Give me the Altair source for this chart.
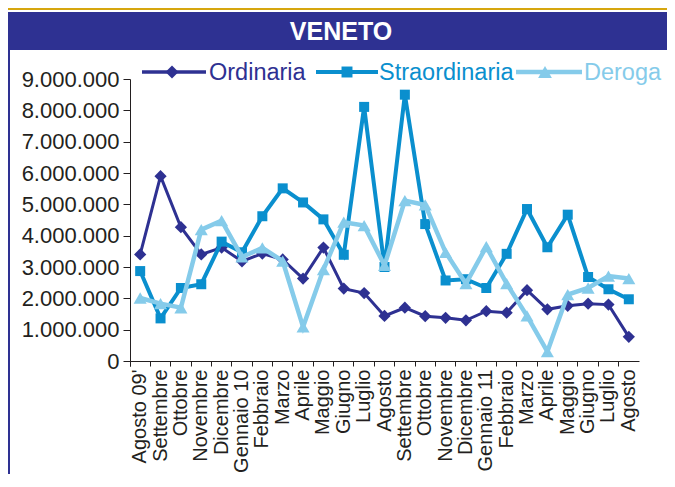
import json
import altair as alt
import pandas as pd

months = ["Agosto 09'", "Settembre", "Ottobre", "Novembre", "Dicembre", "Gennaio 10",
          "Febbraio", "Marzo", "Aprile", "Maggio", "Giugno", "Luglio", "Agosto",
          "Settembre", "Ottobre", "Novembre", "Dicembre", "Gennaio 11", "Febbraio",
          "Marzo", "Aprile", "Maggio", "Giugno", "Luglio", "Agosto"]
ordinaria = [3400000, 5900000, 4270000, 3400000, 3620000, 3180000, 3430000, 3240000,
             2630000, 3620000, 2310000, 2170000, 1440000, 1700000, 1430000, 1380000,
             1300000, 1590000, 1540000, 2260000, 1650000, 1760000, 1830000, 1800000, 770000]
straordinaria = [2870000, 1360000, 2330000, 2450000, 3810000, 3470000, 4620000, 5510000,
                 5060000, 4520000, 3390000, 8110000, 3000000, 8500000, 4370000, 2570000,
                 2610000, 2330000, 3420000, 4850000, 3630000, 4670000, 2680000, 2290000, 1970000]
deroga = [2010000, 1830000, 1700000, 4190000, 4480000, 3320000, 3610000, 3190000,
          1090000, 2920000, 4430000, 4320000, 3050000, 5120000, 4980000, 3470000,
          2470000, 3650000, 2470000, 1440000, 300000, 2120000, 2330000, 2710000, 2630000]
series_names = ["Ordinaria", "Straordinaria", "Deroga"]
y_ticks = list(range(0, 9000001, 1000000))

rows = []
for name, vals in zip(series_names, [ordinaria, straordinaria, deroga]):
    for i, v in enumerate(vals):
        rows.append({"idx": i, "series": name, "value": v})
df = pd.DataFrame(rows)
one = pd.DataFrame({"a": [0]})

FONT = "Liberation Sans"
C_ORD = "#2e3192"
C_STR = "#0a8fce"
C_DER = "#85cbea"
HEADER = "#2e3192"
GOLD = "#d6a60e"
DARK = "#231f20"

x_enc = alt.X(
    "idx:O",
    bandPosition=0.5,
    scale=alt.Scale(type="band", paddingInner=0, paddingOuter=0),
    axis=alt.Axis(
        title=None,
        labelExpr=json.dumps(months) + "[datum.value]",
        labelAngle=270,
        labelFontSize=20,
        labelPadding=3,
        labelOverlap=False,
        labelLimit=300,
        tickSize=5,
        bandPosition=0,
        tickExtra=True,
        grid=False,
    ),
)
y_enc = alt.Y(
    "value:Q",
    scale=alt.Scale(domain=[0, 9000000], nice=False),
    axis=alt.Axis(
        title=None,
        values=y_ticks,
        labelExpr="replace(replace(replace(format(datum.value, ',d'), ',', '.'), ',', '.'), ',', '.')",
        labelFontSize=22,
        labelPadding=4,
        tickSize=7,
        grid=False,
    ),
)

# decorations (header band, gold strip, left border)
gold = alt.Chart(one).mark_rect(color=GOLD).encode(
    x=alt.value(-122), x2=alt.value(537), y=alt.value(-71), y2=alt.value(-69))
header = alt.Chart(one).mark_rect(color=HEADER).encode(
    x=alt.value(-122), x2=alt.value(537), y=alt.value(-67), y2=alt.value(-29))
border = alt.Chart(one).mark_rect(color=HEADER).encode(
    x=alt.value(-122), x2=alt.value(-120), y=alt.value(-29), y2=alt.value(400))
title = alt.Chart(one).mark_text(
    font=FONT, fontSize=25, fontWeight="bold", color="white",
    align="center", baseline="middle").encode(
    x=alt.value(211), y=alt.value(-47), text=alt.value("VENETO"))

def series_layers(name, color, width, shape, size):
    base = alt.Chart(df).transform_filter(alt.datum.series == name)
    line = base.mark_line(color=color, strokeWidth=width).encode(x=x_enc, y=y_enc)
    pts = base.mark_point(shape=shape, filled=True, size=size, color=color, opacity=1).encode(
        x=x_enc, y=y_enc)
    return [line, pts]

def legend_item(name, color, width, shape, size, x1, x2, cx, tx):
    ly = -7
    rule = alt.Chart(one).mark_rule(color=color, strokeWidth=width).encode(
        x=alt.value(x1), x2=alt.value(x2), y=alt.value(ly))
    sym = alt.Chart(one).mark_point(shape=shape, filled=True, size=size, color=color, opacity=1).encode(
        x=alt.value(cx), y=alt.value(ly))
    txt = alt.Chart(one).mark_text(font=FONT, fontSize=23.5, color=color,
                                   align="left", baseline="middle").encode(
        x=alt.value(tx), y=alt.value(ly + 1), text=alt.value(name))
    return [rule, sym, txt]

layers = [gold, header, border, title]
layers += series_layers("Ordinaria", C_ORD, 3, "diamond", 150)
layers += series_layers("Straordinaria", C_STR, 4, "square", 100)
layers += series_layers("Deroga", C_DER, 4.5, "triangle-up", 170)
layers += legend_item("Ordinaria", C_ORD, 3.5, "diamond", 170, 12, 76, 42, 79)
layers += legend_item("Straordinaria", C_STR, 4, "square", 120, 186, 248, 217, 249)
layers += legend_item("Deroga", C_DER, 4.5, "triangle-up", 190, 386, 452, 415, 454)

chart = alt.layer(*layers).properties(
    width=509,
    height=282,
    autosize=alt.AutoSizeParams(type="none"),
    padding={"left": 122, "top": 71, "right": 28, "bottom": 113},
).configure_view(stroke=None).configure_axis(
    labelFont=FONT, labelColor=DARK, domainColor=DARK, tickColor=DARK,
    domainWidth=1, tickWidth=1,
)

chart.save("out.html", embed_options={"renderer": "svg", "actions": False})
